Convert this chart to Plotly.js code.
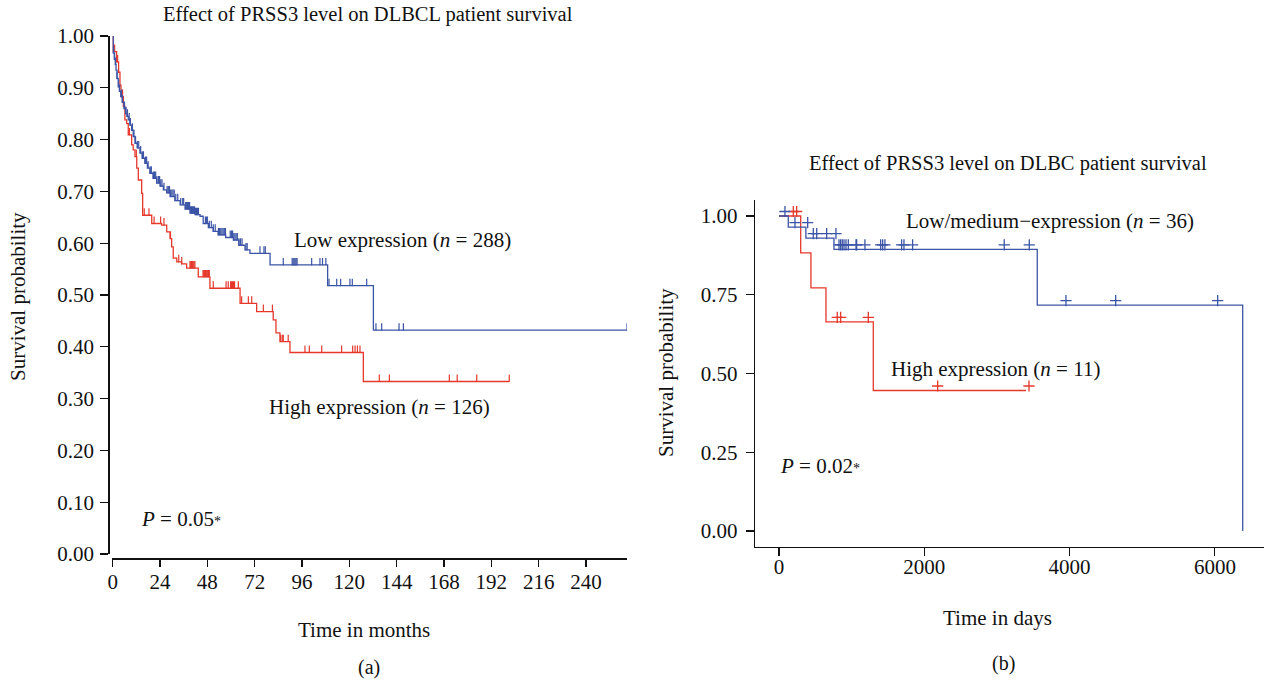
<!DOCTYPE html>
<html>
<head>
<meta charset="utf-8">
<script src="https://cdn.plot.ly/plotly-3.0.1.min.js"></script>
<style>html,body{margin:0;padding:0;background:#fff;}#chart{width:1269px;height:680px;}</style>
</head>
<body>
<div id="chart"></div>
<script>
// ---------- (a) DLBCL, time in months ----------
const lowMonths = [0, 0.3, 0.8, 1.3, 1.7, 2.2, 2.8, 3.4, 4.1, 4.8, 5.7, 6.5, 7.2, 7.9, 8.7, 9.6, 10.4, 11.3, 12.5, 13.8, 15.0, 16.3, 17.6, 18.9, 20.5, 22.3, 24.0, 25.7, 27.4, 29.1, 31.5, 34.2, 36.7, 39.2, 41.8, 44.3, 45.9, 48.5, 51.0, 53.5, 57.3, 61.2, 64.0, 67.1, 69.6, 79.8, 109.0, 132.2, 260.8];
const lowSurv = [1.0, 0.967, 0.955, 0.945, 0.934, 0.918, 0.902, 0.893, 0.883, 0.872, 0.860, 0.850, 0.845, 0.838, 0.828, 0.818, 0.806, 0.793, 0.784, 0.774, 0.764, 0.754, 0.745, 0.735, 0.725, 0.716, 0.710, 0.703, 0.697, 0.690, 0.682, 0.674, 0.666, 0.658, 0.655, 0.652, 0.638, 0.630, 0.623, 0.616, 0.611, 0.606, 0.596, 0.587, 0.5805, 0.558, 0.518, 0.432, 0.432];
const lowCensorMonths = [0.5, 1, 1.5, 2.2, 3, 3.5, 4.5, 5, 6, 6.8, 7.5, 8.4, 9, 10, 10.8, 11.6, 12.5, 13.2, 14.2, 15, 15.6, 16.6, 17.2, 18, 19, 19.6, 20.6, 21.2, 21.8, 22.4, 23.2, 23.8, 24.4, 25, 26, 27.6, 28.2, 28.8, 29.4, 30, 30.6, 31.2, 32, 33, 34.5, 35.5, 36, 37, 37.5, 38, 38.5, 39, 39.5, 40, 40.5, 41, 41.5, 42, 42.5, 43, 43.5, 47, 47.5, 48, 49, 50, 51, 52, 53.6, 54.2, 54.8, 55.4, 56, 56.6, 57.2, 59.6, 60.2, 60.8, 61.4, 62, 62.6, 63.2, 64, 64.8, 65.6, 67.6, 68.2, 74.7, 76.7, 77.4, 86.5, 91, 91.5, 92, 92.5, 93, 93.5, 100.9, 105.1, 106.4, 108.1, 109.7, 113.6, 115.6, 120.3, 121.5, 128.8, 133.5, 136.4, 145.2, 147.4, 260.8];

const highMonths = [0, 0.3, 2.0, 3.0, 3.7, 4.2, 5.4, 6.2, 7.1, 7.9, 9.6, 10.4, 11.3, 12.2, 13.0, 14.7, 15.2, 19.8, 24.8, 27.4, 29.1, 29.9, 30.7, 32.5, 35.0, 37.5, 43.4, 49.3, 64.6, 73.0, 81.4, 82.8, 84.8, 89.9, 127.1, 201.1];
const highSurv = [1.0, 0.970, 0.950, 0.930, 0.905, 0.883, 0.864, 0.838, 0.831, 0.809, 0.790, 0.780, 0.767, 0.745, 0.722, 0.696, 0.654, 0.638, 0.635, 0.622, 0.609, 0.593, 0.571, 0.564, 0.560, 0.552, 0.535, 0.513, 0.484, 0.468, 0.452, 0.427, 0.410, 0.389, 0.333, 0.333];
const highCensorMonths = [1.0, 2.5, 5.0, 8.5, 12.0, 16.0, 18.4, 21.0, 24.3, 26.0, 29.3, 33.5, 35.0, 39.2, 39.6, 40.0, 40.4, 40.8, 41.2, 41.7, 45.8, 46.2, 46.6, 47.0, 47.4, 47.8, 48.2, 48.6, 49.0, 51.0, 57.5, 58.6, 59.8, 60.3, 60.8, 61.3, 61.8, 63.7, 65.4, 68.8, 70.5, 76.4, 81.0, 85.2, 86.0, 86.5, 89.0, 97.5, 99.7, 106.0, 116.1, 121.7, 122.9, 124.1, 125.4, 135.2, 140.3, 170.7, 174.7, 184.6, 201.1];

const monthTicks = [0, 24, 48, 72, 96, 120, 144, 168, 192, 216, 240];
const probTicksA = [0, 0.1, 0.2, 0.3, 0.4, 0.5, 0.6, 0.7, 0.8, 0.9, 1.0];

// ---------- (b) DLBC, time in days ----------
const lowDays = [0, 128, 370, 757, 3555, 6383];
const lowSurvB = [1.0, 0.965, 0.930, 0.894, 0.717, 0.0];
const lowCensorDays = [41, 179, 354, 431, 478, 615, 743, 785, 808, 830, 854, 881, 913, 1019, 1028, 1142, 1358, 1386, 1417, 1647, 1679, 1798, 3059, 3404, 3909, 4593, 5997];

const highDays = [0, 299, 440, 647, 1298, 3400];
const highSurvB = [1.0, 0.883, 0.772, 0.664, 0.446, 0.446];
const highCensorDays = [156, 202, 761, 808, 1188, 2143, 3400];

const dayTicks = [0, 2000, 4000, 6000];
const probTicksB = [0, 0.25, 0.5, 0.75, 1.0];

// ---------- helpers ----------
function stepAt(ts, ss, t) {
  let v = ss[0];
  for (let i = 0; i < ts.length; i++) { if (ts[i] <= t) v = ss[i]; }
  return v;
}
const W = 1269, H = 680;
const px = x => x / W;
const py = y => 1 - y / H;

const BLUE = '#3b54a6';
const RED = '#e5382b';
const SERIF = 'Liberation Serif, Times New Roman, serif';

const traces = [];
// (a) curves
traces.push({x: highMonths, y: highSurv, mode: 'lines', line: {shape: 'hv', color: RED, width: 1.3}, xaxis: 'x', yaxis: 'y', hoverinfo: 'skip'});
traces.push({x: lowMonths, y: lowSurv, mode: 'lines', line: {shape: 'hv', color: BLUE, width: 1.3}, xaxis: 'x', yaxis: 'y', hoverinfo: 'skip'});
// (a) censor ticks (vertical strokes rising from the curve)
traces.push({x: highCensorMonths, y: highCensorMonths.map(t => stepAt(highMonths, highSurv, t)), mode: 'markers',
  marker: {size: 1, color: RED}, error_y: {type: 'constant', symmetric: false, value: 0.0135, valueminus: 0, width: 0, thickness: 1.2, color: RED},
  xaxis: 'x', yaxis: 'y', hoverinfo: 'skip'});
traces.push({x: lowCensorMonths, y: lowCensorMonths.map(t => stepAt(lowMonths, lowSurv, t)), mode: 'markers',
  marker: {size: 1, color: BLUE}, error_y: {type: 'constant', symmetric: false, value: 0.0135, valueminus: 0, width: 0, thickness: 1.2, color: BLUE},
  xaxis: 'x', yaxis: 'y', hoverinfo: 'skip'});

// (b) curves
traces.push({x: highDays, y: highSurvB, mode: 'lines', line: {shape: 'hv', color: RED, width: 1.3}, xaxis: 'x2', yaxis: 'y2', hoverinfo: 'skip'});
traces.push({x: lowDays, y: lowSurvB, mode: 'lines', line: {shape: 'hv', color: BLUE, width: 1.3}, xaxis: 'x2', yaxis: 'y2', hoverinfo: 'skip'});
// (b) censor "+" marks (drawn slightly offset, as in the reference)
traces.push({x: highCensorDays, y: highCensorDays.map(t => stepAt(highDays, highSurvB, t)), mode: 'markers',
  marker: {symbol: 'cross-thin', size: 8, line: {color: RED, width: 1.3}}, xaxis: 'x3', yaxis: 'y3', hoverinfo: 'skip'});
traces.push({x: lowCensorDays, y: lowCensorDays.map(t => stepAt(lowDays, lowSurvB, t)), mode: 'markers',
  marker: {symbol: 'cross-thin', size: 8, line: {color: BLUE, width: 1.3}}, xaxis: 'x3', yaxis: 'y3', hoverinfo: 'skip'});

const tickFont = {family: SERIF, size: 21, color: '#111'};
const axisCommon = {showgrid: false, zeroline: false, showline: true, linecolor: '#111', linewidth: 1.2,
  ticks: 'outside', tickcolor: '#111', tickwidth: 1.2, tickfont: tickFont, fixedrange: true};

const xDomA = [px(111.7), px(627)];
const yDomA = [py(554), py(36)];
const xDomB = [px(755), px(1264)];
const yDomB = [py(546.75), py(200.25)];
const xRangeB = [-330, 6676];
const yRangeB = [-0.05, 1.05];
const dxB = 3 / (509 / (xRangeB[1] - xRangeB[0]));
const dyB = 4.5 / (346.5 / (yRangeB[1] - yRangeB[0]));

function ann(text, x, y, size, extra) {
  return Object.assign({text: text, x: px(x), y: py(y), xref: 'paper', yref: 'paper', showarrow: false,
    xanchor: 'center', yanchor: 'middle', font: {family: SERIF, size: size, color: '#111'}}, extra || {});
}

const layout = {
  width: W, height: H, autosize: false,
  margin: {l: 0, r: 0, t: 0, b: 0, pad: 0},
  paper_bgcolor: '#fff', plot_bgcolor: 'rgba(0,0,0,0)',
  showlegend: false,
  xaxis: Object.assign({}, axisCommon, {domain: xDomA, range: [-0.5, 260.8], anchor: 'free', position: py(558.3),
    tickvals: monthTicks, ticklen: 7, ticklabelstandoff: -3}),
  yaxis: Object.assign({}, axisCommon, {domain: yDomA, range: [0, 1], anchor: 'free', position: px(108.3),
    tickvals: probTicksA, tickformat: '.2f', ticklen: 8, ticklabelstandoff: 2}),
  xaxis2: Object.assign({}, axisCommon, {domain: xDomB, range: xRangeB, anchor: 'y2',
    tickvals: dayTicks, ticklen: 8, ticklabelstandoff: -7}),
  yaxis2: Object.assign({}, axisCommon, {domain: yDomB, range: yRangeB, anchor: 'x2',
    tickvals: probTicksB, tickformat: '.2f', ticklen: 8, ticklabelstandoff: 4}),
  xaxis3: {domain: xDomB, range: [xRangeB[0] - dxB, xRangeB[1] - dxB], overlaying: 'x2', anchor: 'y3', visible: false, fixedrange: true},
  yaxis3: {domain: yDomB, range: [yRangeB[0] - dyB, yRangeB[1] - dyB], overlaying: 'y2', anchor: 'x3', visible: false, fixedrange: true},
  annotations: [
    ann('Effect of PRSS3 level on DLBCL patient survival', 368, 14, 20.5),
    ann('Survival probability', 18, 297, 21, {textangle: -90}),
    ann('Time in months', 364, 630, 21),
    ann('(a)', 369, 667, 20),
    ann('Low expression (<i>n</i> = 288)', 402.5, 240, 21),
    ann('High expression (<i>n</i> = 126)', 379, 407, 21),
    ann('<i>P</i> = 0.05<span style="font-size:14px">*</span>', 181, 519, 21),

    ann('Effect of PRSS3 level on DLBC patient survival', 1008, 163, 20.5),
    ann('Survival probability', 666, 373, 21, {textangle: -90}),
    ann('Time in days', 997, 618, 21),
    ann('(b)', 1003, 663, 20),
    ann('Low/medium\u2212expression (<i>n</i> = 36)', 1049.5, 221, 21),
    ann('High expression (<i>n</i> = 11)', 995.5, 369, 21),
    ann('<i>P</i> = 0.02<span style="font-size:14px">*</span>', 819.5, 466, 21)
  ]
};

Plotly.newPlot('chart', traces, layout, {staticPlot: true, displayModeBar: false});
</script>
</body>
</html>
